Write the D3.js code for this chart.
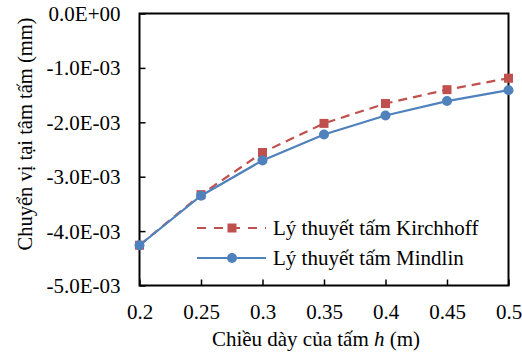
<!DOCTYPE html>
<html>
<head>
<meta charset="utf-8">
<script src="https://cdn.jsdelivr.net/npm/d3@7"></script>
<style>
  html, body { margin: 0; padding: 0; background: #fff; }
  svg text { font-family: "Liberation Serif", "Times New Roman", serif; fill: #000; }
</style>
</head>
<body>
<svg id="chart" width="522" height="356"></svg>
<script>
// Plate thickness h (m)
const thickness = [0.2, 0.25, 0.3, 0.35, 0.4, 0.45, 0.5];
// Central deflection (mm) for each plate theory
const kirchhoff = [-4.26e-3, -3.33e-3, -2.555e-3, -2.02e-3, -1.655e-3, -1.40e-3, -1.19e-3];
const mindlin   = [-4.26e-3, -3.35e-3, -2.70e-3, -2.225e-3, -1.875e-3, -1.61e-3, -1.41e-3];
const seriesNames = ["Lý thuyết tấm Kirchhoff", "Lý thuyết tấm Mindlin"];
const xTicks = [0.2, 0.25, 0.3, 0.35, 0.4, 0.45, 0.5];
const yTicks = [0, -1e-3, -2e-3, -3e-3, -4e-3, -5e-3];
const yTickLabels = ["0.0E+00", "-1.0E-03", "-2.0E-03", "-3.0E-03", "-4.0E-03", "-5.0E-03"];

const FONT = "Liberation Serif, Times New Roman, serif";
const svg = d3.select("#chart");
const plotL = 139.5, plotR = 508.5, plotT = 13.5, plotB = 285.5;

const x = d3.scaleLinear().domain([0.2, 0.5]).range([plotL, plotR]);
const y = d3.scaleLinear().domain([-5e-3, 0]).range([plotB, plotT]);

// Axes with inward ticks
const xAxis = d3.axisBottom(x).tickValues(xTicks).tickSizeInner(-6).tickSizeOuter(0)
  .tickFormat(d => d3.format("")(d));
const yAxis = d3.axisLeft(y).tickValues(yTicks).tickSizeInner(-6).tickSizeOuter(0)
  .tickFormat((d, i) => yTickLabels[i]);

const gx = svg.append("g").attr("transform", `translate(0,${plotB})`).call(xAxis);
const gy = svg.append("g").attr("transform", `translate(${plotL},0)`).call(yAxis);
[gx, gy].forEach(g => {
  g.attr("font-family", FONT).attr("font-size", 21);
  g.select(".domain").remove();
  g.selectAll(".tick line").attr("stroke", "#000").attr("stroke-width", 1.5);
  g.selectAll(".tick text").attr("fill", "#000");
});
gx.selectAll(".tick text").attr("y", 33).attr("dy", null);
gy.selectAll(".tick text").attr("x", -19).attr("dy", "0.33em");

// Frame
svg.append("rect")
  .attr("x", plotL).attr("y", plotT)
  .attr("width", plotR - plotL).attr("height", plotB - plotT)
  .attr("fill", "none").attr("stroke", "#000").attr("stroke-width", 2);

const red = "#C0504D", blue = "#4F81BD";
const line = d3.line().x((d, i) => x(thickness[i])).y(d => y(d));

// Kirchhoff series (dashed, square markers)
svg.append("path").datum(kirchhoff)
  .attr("d", line).attr("fill", "none").attr("stroke", red)
  .attr("stroke-width", 2.2).attr("stroke-dasharray", "9,6");
svg.selectAll(".sq").data(kirchhoff).enter().append("rect")
  .attr("x", (d, i) => x(thickness[i]) - 4.5).attr("y", d => y(d) - 4.5)
  .attr("width", 9).attr("height", 9).attr("fill", red);

// Mindlin series (solid, circle markers)
svg.append("path").datum(mindlin)
  .attr("d", line).attr("fill", "none").attr("stroke", blue).attr("stroke-width", 2.2);
svg.selectAll(".ci").data(mindlin).enter().append("circle")
  .attr("cx", (d, i) => x(thickness[i])).attr("cy", d => y(d))
  .attr("r", 5).attr("fill", blue);

// Legend
const lg = svg.append("g");
const lx0 = 197, lx1 = 266, lmid = 232, ly = [228, 258];
lg.append("line").attr("x1", lx0).attr("x2", lx1).attr("y1", ly[0]).attr("y2", ly[0])
  .attr("stroke", red).attr("stroke-width", 2.2).attr("stroke-dasharray", "9,8");
lg.append("rect").attr("x", lmid - 4.5).attr("y", ly[0] - 4.5).attr("width", 9).attr("height", 9).attr("fill", red);
lg.append("line").attr("x1", lx0).attr("x2", lx1).attr("y1", ly[1]).attr("y2", ly[1])
  .attr("stroke", blue).attr("stroke-width", 2.2);
lg.append("circle").attr("cx", lmid).attr("cy", ly[1]).attr("r", 5).attr("fill", blue);
seriesNames.forEach((n, i) => {
  lg.append("text").attr("x", 273).attr("y", ly[i] + 7)
    .attr("font-size", 21).text(n);
});

// Axis titles
const xt = svg.append("text").attr("x", 316).attr("y", 346).attr("text-anchor", "middle")
  .attr("font-size", 21);
xt.append("tspan").text("Chiều dày của tấm ");
xt.append("tspan").attr("font-style", "italic").text("h");
xt.append("tspan").text(" (m)");

svg.append("text")
  .attr("transform", `translate(32,134) rotate(-90)`)
  .attr("text-anchor", "middle").attr("font-size", 20.5)
  .text("Chuyển vị tại tâm tấm (mm)");
</script>
</body>
</html>
